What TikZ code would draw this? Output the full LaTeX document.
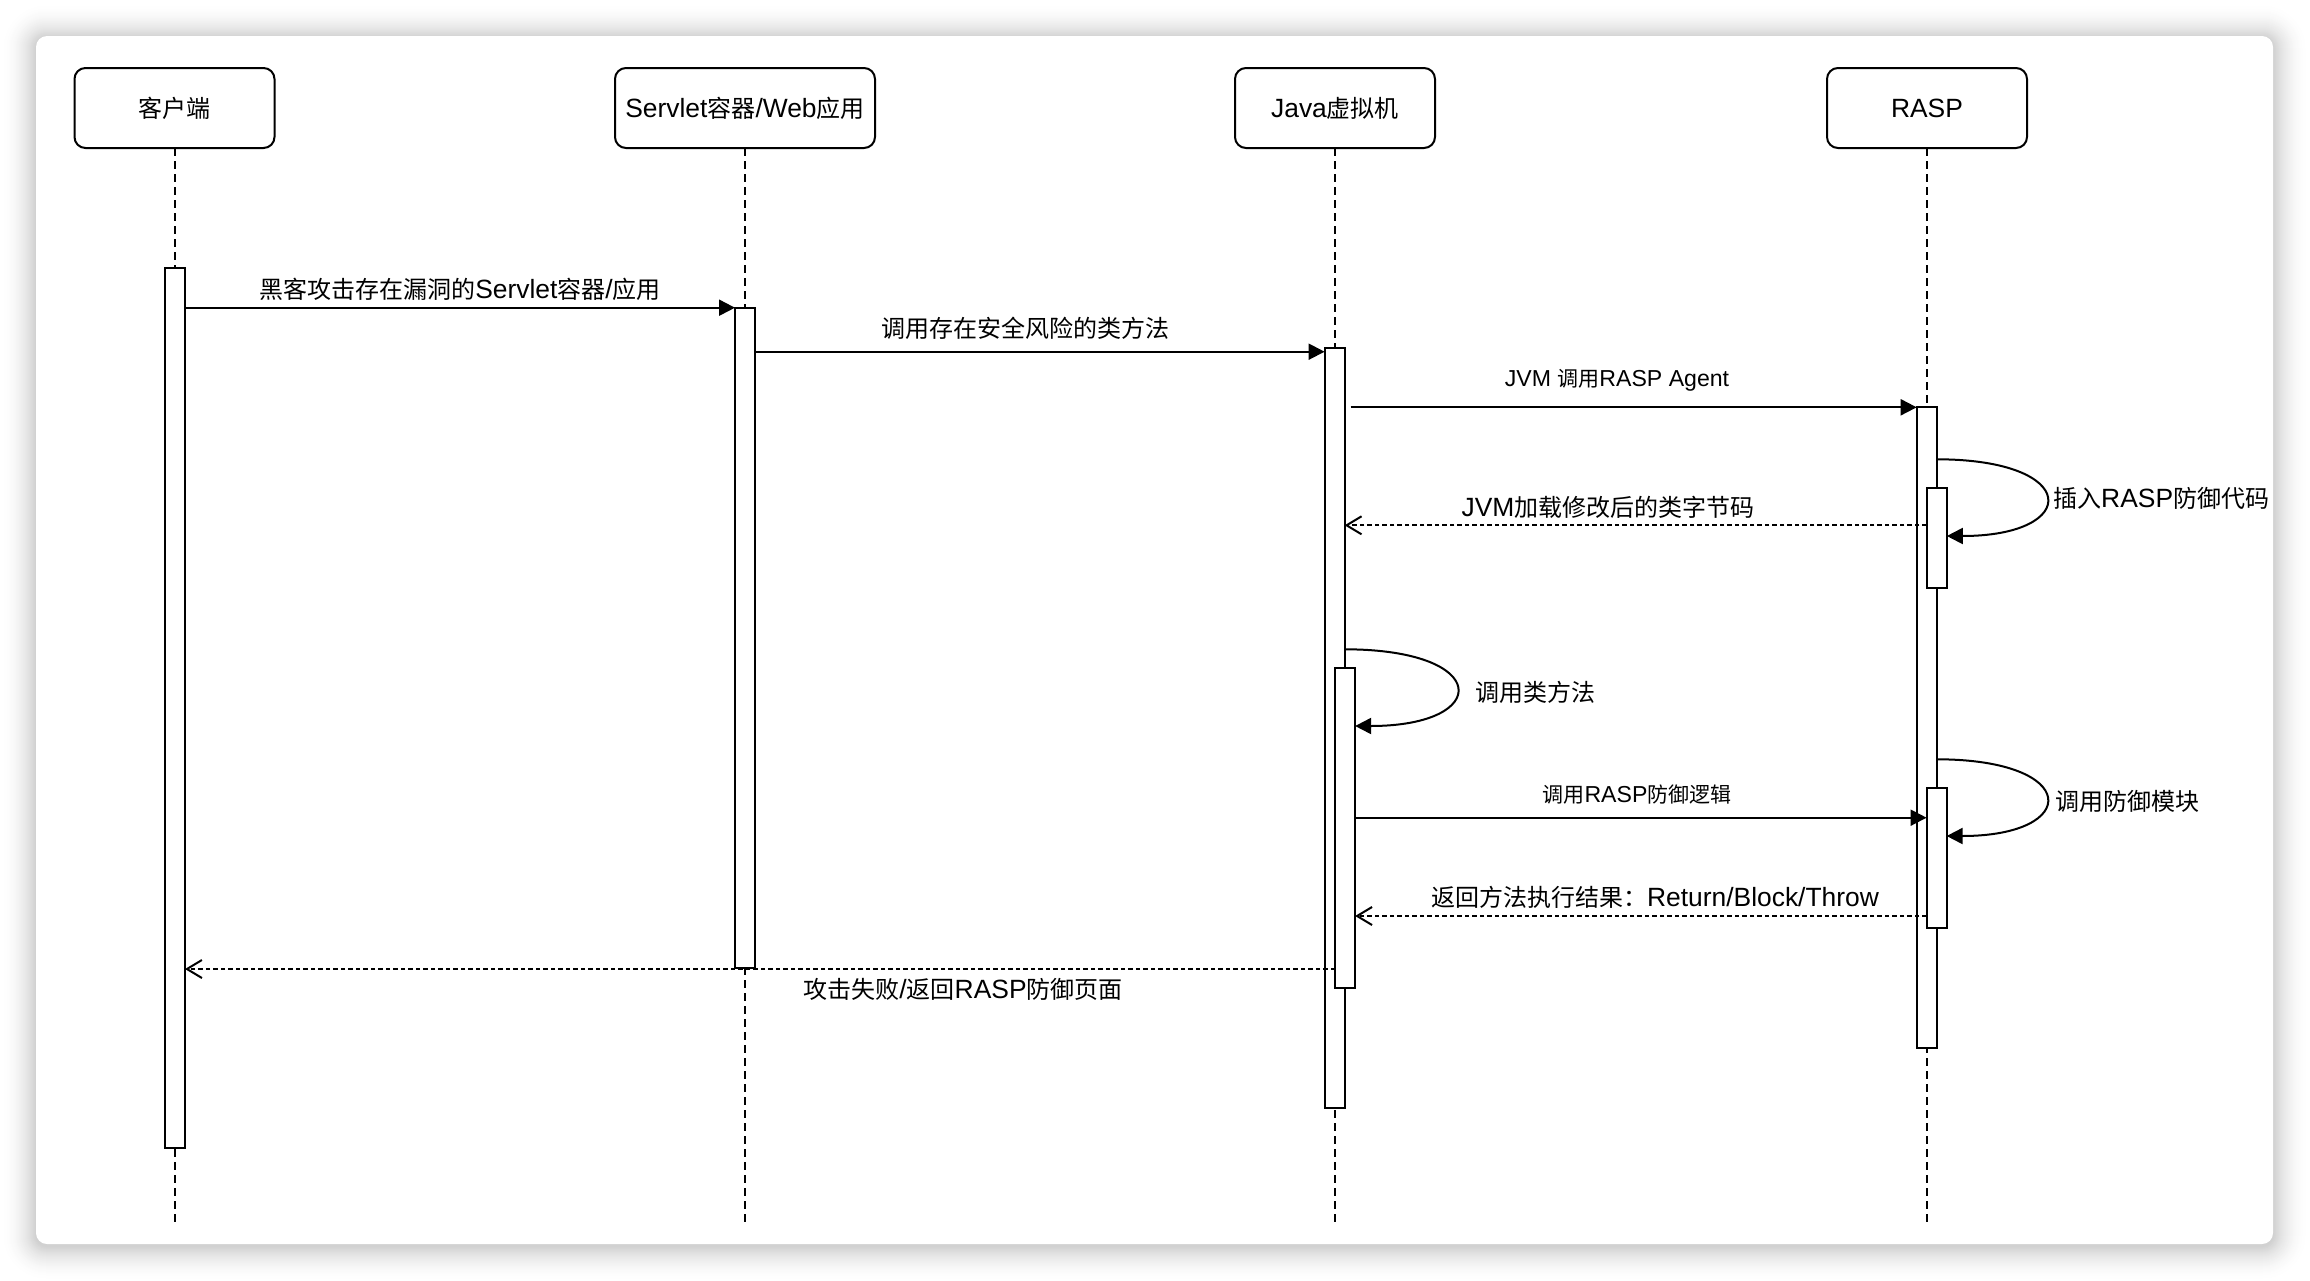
\documentclass[tikz,border=0pt]{standalone}
\usepackage{fontspec}
\setmainfont{Liberation Sans}[Scale=1.1]
\newfontfamily\cjk{Noto Sans CJK SC}
\usetikzlibrary{arrows.meta,calc}
\begin{document}
\begin{tikzpicture}[x=1pt,y=-1pt,
  actor/.style={draw, line width=2pt, rounded corners=11pt, fill=white, minimum width=200pt, minimum height=80pt, inner sep=0pt, outer sep=0pt, font=\fontsize{24pt}{28pt}\selectfont},
  lifeline/.style={line width=2pt, dash pattern=on 8pt off 5pt},
  bar/.style={draw, line width=2pt, fill=white, minimum width=20pt, inner sep=0pt, outer sep=0pt, anchor=north},
  msg/.style={line width=2pt, -{Triangle[length=16pt,width=16pt]}},
  ret/.style={line width=2pt, dash pattern=on 4.5pt off 3pt, -{Straight Barb[length=15pt,width=18pt]}},
  lbl/.style={inner sep=0pt, font=\fontsize{24pt}{28pt}\selectfont},
  slbl/.style={inner sep=0pt, font=\fontsize{21pt}{25pt}\selectfont}
]
\useasboundingbox (0,0) rectangle (2310,1280);
\fill[white] (0,0) rectangle (2310,1280);
% soft shadow round the page frame (solid grey steps, no transparency)
\foreach \i [evaluate=\i as \r using 11+\i, evaluate=\i as \p using 19*(1-\i/36)^2] in {35,34,...,1}
  \fill[black!\p!white, rounded corners=\r pt] (36-\i,38-\i) rectangle (2273+\i,1246+\i);
\fill[white, rounded corners=11pt] (36,36) rectangle (2273,1244);

% participants
\node[actor] (client) at (174.5,108) {{\cjk 客户端}};
\node[actor, minimum width=260pt] (servlet) at (745,108) {Servlet{\cjk 容器}/Web{\cjk 应用}};
\node[actor] (jvm) at (1335,108) {Java{\cjk 虚拟机}};
\node[actor] (rasp) at (1927,108) {RASP};

% lifeline ends
\coordinate (cend) at (174.5,1222);
\coordinate (send) at (745,1222);
\coordinate (jend) at (1335,1222);
\coordinate (rend) at (1927,1222);
\draw[lifeline] (client.south) -- (cend);
\draw[lifeline] (servlet.south) -- (send);
\draw[lifeline] (jvm.south) -- (jend);
\draw[lifeline] (rasp.south) -- (rend);

% activation bars
\node[bar, minimum height=880.6pt] (cbar) at (175,267.7) {};
\node[bar, minimum height=660pt] (sbar) at (745,307.7) {};
\node[bar, minimum height=760.6pt] (jbar) at (1334.6,347.7) {};
\node[bar, minimum height=320pt] (jin) at (1345.1,667.7) {};
\node[bar, minimum height=640.4pt] (rbar) at (1926.7,407.3) {};
\node[bar, minimum height=100pt] (rin1) at (1936.8,487.7) {};
\node[bar, minimum height=140pt] (rin2) at (1936.6,787.7) {};

% message heights
\coordinate (y2) at (0,351.7);
\coordinate (y3) at (0,407.3);
\coordinate (y4a) at (0,459.3);
\coordinate (y4b) at (0,536);
\coordinate (y5) at (0,525.3);
\coordinate (y6a) at (0,649.3);
\coordinate (y6b) at (0,726);
\coordinate (y7) at (0,817.7);
\coordinate (y8a) at (0,759.3);
\coordinate (y8b) at (0,836);
\coordinate (y9) at (0,916);
\coordinate (y10) at (0,969);

% messages
\draw[msg] (cbar.east |- sbar.north) -- (sbar.north west);
\node[lbl] (l1) at (460,289) {{\cjk 黑客攻击存在漏洞的}Servlet{\cjk 容器}/{\cjk 应用}};

\draw[msg] (sbar.east |- y2) -- (jbar.west |- y2);
\node[lbl] (l2) at (1025,328.5) {{\cjk 调用存在安全风险的类方法}};

\draw[msg] ($(jbar.east |- y3)+(6,0)$) -- (rbar.north west);
\node[slbl] (l3) at (1617,380) {JVM {\cjk 调用}RASP Agent};

\draw[msg] (rbar.east |- y4a) .. controls (2081,459.3) and (2081,536) .. (rin1.east |- y4b);
\node[lbl, anchor=west] (l4) at (2053,498) {{\cjk 插入}RASP{\cjk 防御代码}};

\draw[ret] (rin1.west |- y5) -- (jbar.east |- y5);
\node[lbl] (l5) at (1608,507) {JVM{\cjk 加载修改后的类字节码}};

\draw[msg] (jbar.east |- y6a) .. controls (1492,649.3) and (1492,726) .. (jin.east |- y6b);
\node[lbl, anchor=west] (l6) at (1475,692) {{\cjk 调用类方法}};

\draw[msg] (jin.east |- y7) -- (rin2.west |- y7);
\node[slbl] (l7) at (1637,795) {{\cjk 调用}RASP{\cjk 防御逻辑}};

\draw[msg] (rbar.east |- y8a) .. controls (2081,759.3) and (2081,836) .. (rin2.east |- y8b);
\node[lbl, anchor=west] (l8) at (2055,801) {{\cjk 调用防御模块}};

\draw[ret] (rin2.west |- y9) -- (jin.east |- y9);
\node[lbl] (l9) at (1655,897) {{\cjk 返回方法执行结果：}Return/Block/Throw};

\draw[ret] (jin.west |- y10) -- (cbar.east |- y10);
\node[lbl] (l10) at (963,989) {{\cjk 攻击失败}/{\cjk 返回}RASP{\cjk 防御页面}};
\end{tikzpicture}
\end{document}
